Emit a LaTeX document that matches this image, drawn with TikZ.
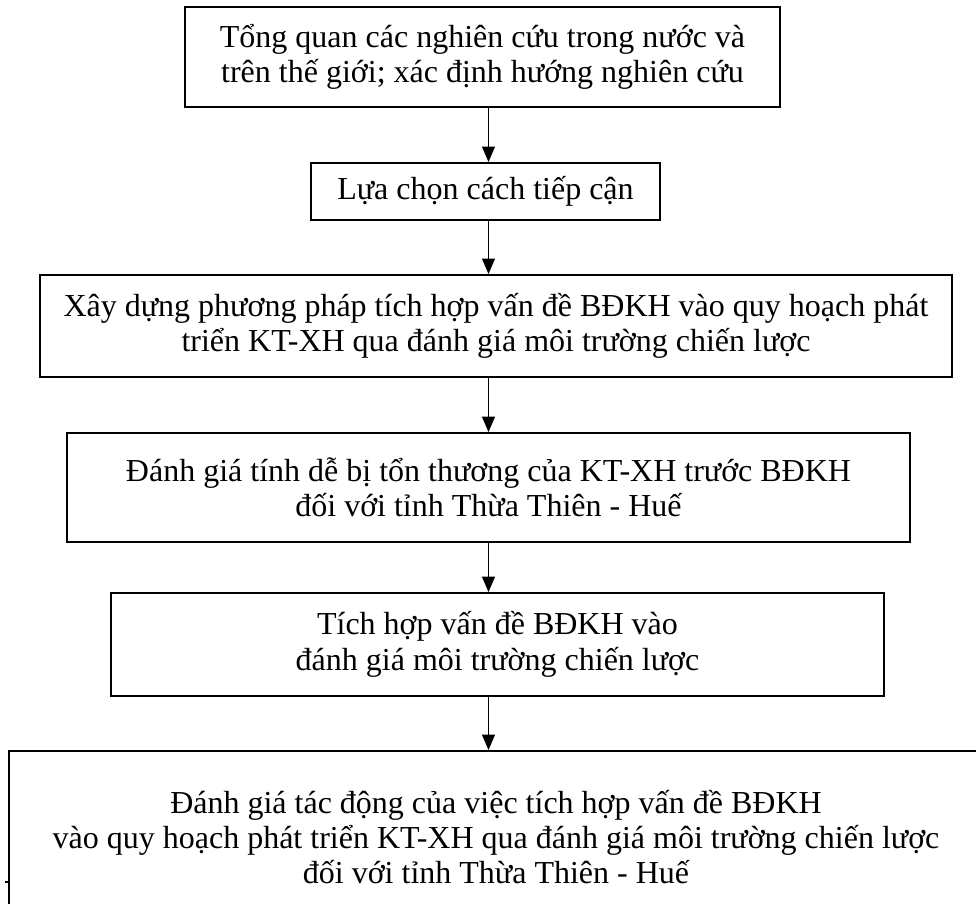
\documentclass[tikz,border=0pt]{standalone}
\usepackage{fontspec}
\setmainfont{Liberation Serif}
\usetikzlibrary{arrows.meta}
\begin{document}
\begin{tikzpicture}[x=0.75pt,y=-0.75pt,
  stage/.style={draw, line width=1.4pt, rectangle, align=center, inner sep=0pt,
    font=\fontsize{24}{26.5}\selectfont},
  flow/.style={line width=1.4pt, -{Triangle[length=11.5pt,width=9.5pt]}}]
\useasboundingbox (0,0) rectangle (976,904);
\fill[white] (0,0) rectangle (976,904);

% process stages, top to bottom
\node[stage, minimum width=446.25pt, minimum height=75pt] (b1) at (482.5,57)
  {Tổng quan các nghiên cứu trong nước và\\trên thế giới; xác định hướng nghiên cứu};
\node[stage, minimum width=261.75pt, minimum height=42.75pt] (b2) at (485.5,191.5)
  {Lựa chọn cách tiếp cận};
\node[stage, minimum width=684pt, minimum height=76.5pt] (b3) at (496,326)
  {Xây dựng phương pháp tích hợp vấn đề BĐKH vào quy hoạch phát\\triển KT-XH qua đánh giá môi trường chiến lược};
\node[stage, minimum width=632.25pt, minimum height=81.75pt] (b4) at (488.5,487.5)
  {Đánh giá tính dễ bị tổn thương của KT-XH trước BĐKH\\đối với tỉnh Thừa Thiên - Huế};
\node[stage, minimum width=579.75pt, minimum height=77.25pt] (b5) at (497.5,644.5)
  {Tích hợp vấn đề BĐKH vào\\đánh giá môi trường chiến lược};
\node[stage, minimum width=730.5pt, minimum height=129pt] (b6) at (496,837)
  {Đánh giá tác động của việc tích hợp vấn đề BĐKH\\vào quy hoạch phát triển KT-XH qua đánh giá môi trường chiến lược\\đối với tỉnh Thừa Thiên - Huế};

% vertical axis shared by all arrows
\coordinate (axis) at (488.5,0);
\draw[flow] (b1.south -| axis) -- (b2.north -| axis);
\draw[flow] (b2.south -| axis) -- (b3.north -| axis);
\draw[flow] (b3.south -| axis) -- (b4.north -| axis);
\draw[flow] (b4.south -| axis) -- (b5.north -| axis);
\draw[flow] (b5.south -| axis) -- (b6.north -| axis);

% small stub on the left border of the last box
\coordinate (tick) at (5,882);
\draw[line width=1.5pt] (tick) -- (tick -| b6.west);
\end{tikzpicture}
\end{document}
